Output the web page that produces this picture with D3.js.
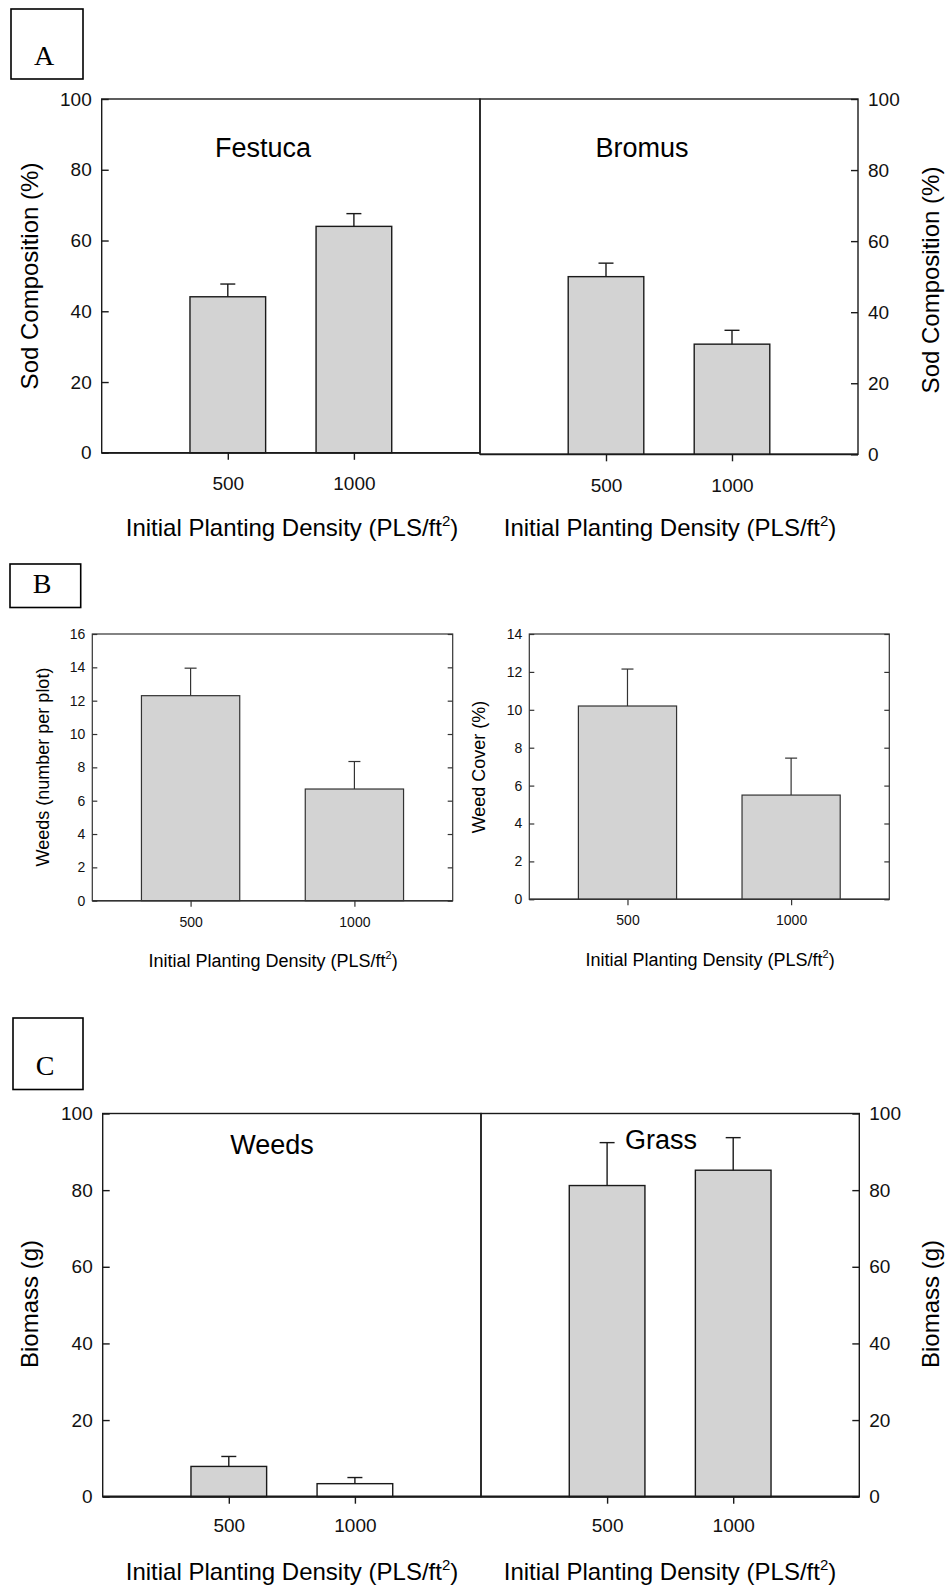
<!DOCTYPE html>
<html>
<head>
<meta charset="utf-8">
<script src="https://cdnjs.cloudflare.com/ajax/libs/d3/7.8.5/d3.min.js"></script>
<style>
  body { margin: 0; background: #fff; }
  svg { display: block; font-family: "Liberation Sans", Arial, sans-serif; }
</style>
</head>
<body>
<div id="d3"></div>
<script>
// values (mean and upper error)
var densities = ["500", "1000"];

var festuca = [44.1, 64.0], festucaErr = [3.6, 3.6];
var bromus = [50.0, 31.0], bromusErr = [3.8, 3.9];

var weedCount = [12.3, 6.7], weedCountErr = [1.65, 1.65];
var weedCover = [10.2, 5.5], weedCoverErr = [1.95, 1.95];

var weedMass = [7.9, 3.4], weedMassErr = [2.6, 1.6];
var grassMass = [81.2, 85.2], grassMassErr = [11.2, 8.5];

var pctTicks = [0, 20, 40, 60, 80, 100];
var countTicks = [0, 2, 4, 6, 8, 10, 12, 14, 16];
var coverTicks = [0, 2, 4, 6, 8, 10, 12, 14];
var massTicks = [0, 20, 40, 60, 80, 100];

var W = 947, H = 1585;
var GREY = "#d3d3d3";

var svg = d3.select("#d3")
  .append("svg")
  .attr("width", W)
  .attr("height", H);

// panel letter in a box
function letterBox(txt, x0, y0, x1, y1, cx, by, size) {
  svg.append("rect")
    .attr("x", x0).attr("y", y0)
    .attr("width", x1 - x0).attr("height", y1 - y0)
    .attr("fill", "none")
    .attr("stroke", "#000")
    .attr("stroke-width", 1.6);
  svg.append("text")
    .attr("x", cx).attr("y", by)
    .attr("text-anchor", "middle")
    .style("font-family", "'Liberation Serif', 'Times New Roman', serif")
    .style("font-size", size + "px")
    .text(txt);
}

function yTitle(txt, cx, cy, size) {
  svg.append("text")
    .attr("transform", "translate(" + cx + "," + cy + ") rotate(-90)")
    .attr("text-anchor", "middle")
    .attr("dy", "0.35em")
    .style("font-size", size + "px")
    .text(txt);
}

function xTitle(cx, by, size) {
  var t = svg.append("text")
    .attr("x", cx).attr("y", by)
    .attr("text-anchor", "middle")
    .style("font-size", size + "px");
  t.append("tspan").text("Initial Planting Density (PLS/ft");
  t.append("tspan")
    .style("font-size", Math.round(size * 0.62) + "px")
    .attr("dy", -size * 0.42)
    .text("2");
  t.append("tspan")
    .attr("dy", size * 0.42)
    .text(")");
}

function drawPanel(p) {
  var x = d3.scaleLinear().domain(p.xDomain).range([p.left, p.right]);
  var y = d3.scaleLinear().domain([0, d3.max(p.ticks)]).range([p.bottom, p.top]);
  var half = x(1.3) - x(1); // bars are 0.6 category units wide

  var g = svg.append("g");

  // frame
  g.append("rect")
    .attr("x", p.left).attr("y", p.top)
    .attr("width", p.right - p.left)
    .attr("height", p.bottom - p.top)
    .attr("fill", "none")
    .attr("stroke", p.stroke)
    .attr("stroke-width", p.frameW);

  // bars
  g.selectAll(".bar")
    .data(p.values)
    .enter().append("rect")
    .attr("class", "bar")
    .attr("x", (d, i) => x(i + 1) - half)
    .attr("width", 2 * half)
    .attr("y", d => y(d))
    .attr("height", d => y(0) - y(d))
    .attr("fill", (d, i) => p.fills[i])
    .attr("stroke", p.stroke)
    .attr("stroke-width", p.barW);

  // upper error bars
  g.selectAll(".stem")
    .data(p.values)
    .enter().append("line")
    .attr("x1", (d, i) => x(i + 1))
    .attr("x2", (d, i) => x(i + 1))
    .attr("y1", d => y(d))
    .attr("y2", (d, i) => y(d + p.errs[i]))
    .attr("stroke", p.stroke)
    .attr("stroke-width", p.barW);

  g.selectAll(".cap")
    .data(p.values)
    .enter().append("line")
    .attr("x1", (d, i) => x(i + 1) - p.cap / 2)
    .attr("x2", (d, i) => x(i + 1) + p.cap / 2)
    .attr("y1", (d, i) => y(d + p.errs[i]))
    .attr("y2", (d, i) => y(d + p.errs[i]))
    .attr("stroke", p.stroke)
    .attr("stroke-width", p.barW);

  // bottom line a bit heavier
  g.append("line")
    .attr("x1", p.left).attr("x2", p.right)
    .attr("y1", p.bottom).attr("y2", p.bottom)
    .attr("stroke", p.stroke)
    .attr("stroke-width", p.baseW);

  // x axis
  var xa = g.append("g")
    .attr("transform", "translate(0," + p.bottom + ")")
    .call(d3.axisBottom(x)
      .tickValues([1, 2])
      .tickFormat((d, i) => densities[i])
      .tickSizeInner(p.xTick)
      .tickSizeOuter(0)
      .tickPadding(p.xPad));
  xa.select(".domain").remove();

  // y axis, ticks pointing inward
  var sides = p.ySide == "both" ? ["left", "right"] : [p.ySide];
  sides.forEach(function (s, k) {
    var ax = s == "left" ? d3.axisLeft(y) : d3.axisRight(y);
    ax.tickValues(p.ticks)
      .tickSizeInner(-p.yTick)
      .tickSizeOuter(0)
      .tickPadding(p.yPad);
    if (k > 0) ax.tickFormat("");
    var ya = g.append("g")
      .attr("transform", "translate(" + (s == "left" ? p.left : p.right) + ",0)")
      .call(ax);
    ya.select(".domain").remove();
  });

  g.selectAll(".tick line")
    .attr("stroke", p.stroke)
    .attr("stroke-width", p.frameW);
  g.selectAll(".tick text")
    .attr("fill", "#111")
    .style("font-family", "'Liberation Sans', Arial, sans-serif")
    .style("font-size", p.tickFont + "px");

  if (p.name) {
    g.append("text")
      .attr("x", p.nameX).attr("y", p.nameY)
      .attr("text-anchor", "middle")
      .attr("dy", "0.35em")
      .style("font-size", "27px")
      .text(p.name);
  }
}

// ---------- A ----------
letterBox("A", 11, 9, 83, 79, 44, 65, 28);

var bigA = {
  xDomain: [0, 3], ticks: pctTicks,
  top: 99, stroke: "#1a1a1a", frameW: 1.4, barW: 1.4, baseW: 1.8,
  cap: 15, xTick: 7, xPad: 17, yTick: 7, yPad: 10, tickFont: 19,
  fills: [GREY, GREY]
};

drawPanel(Object.assign({}, bigA, {
  left: 101.7, right: 480, bottom: 452.8, ySide: "left",
  values: festuca, errs: festucaErr,
  name: "Festuca", nameX: 263, nameY: 148
}));
drawPanel(Object.assign({}, bigA, {
  left: 480, right: 858, bottom: 454.3, ySide: "right",
  values: bromus, errs: bromusErr,
  name: "Bromus", nameX: 642, nameY: 148
}));

yTitle("Sod Composition (%)", 30, 276, 24);
yTitle("Sod Composition (%)", 931, 280, 24);
xTitle(292, 536, 24);
xTitle(670, 536, 24);

// ---------- B ----------
letterBox("B", 10, 564, 80.7, 607.5, 42, 593, 28);

var smallB = {
  xDomain: [0.4, 2.6], top: 634, stroke: "#333", frameW: 1.2, barW: 1.2, baseW: 1.4,
  cap: 12, xTick: 6, xPad: 10, yTick: 5, yPad: 7, tickFont: 14,
  ySide: "both", fills: [GREY, GREY]
};

drawPanel(Object.assign({}, smallB, {
  left: 92.3, right: 452.7, bottom: 900.7, ticks: countTicks,
  values: weedCount, errs: weedCountErr
}));
drawPanel(Object.assign({}, smallB, {
  left: 529.3, right: 889.3, bottom: 899.3, ticks: coverTicks,
  values: weedCover, errs: weedCoverErr
}));

yTitle("Weeds (number per plot)", 43, 767, 18);
yTitle("Weed Cover (%)", 479, 767, 18);
xTitle(273, 967, 18);
xTitle(710, 966, 18);

// ---------- C ----------
letterBox("C", 13, 1018, 83, 1089.5, 45, 1075, 28);

var bigC = Object.assign({}, bigA, { ticks: massTicks, top: 1113.5, bottom: 1496.7, baseW: 2.2, xPad: 15 });

drawPanel(Object.assign({}, bigC, {
  left: 102.7, right: 481, ySide: "left",
  values: weedMass, errs: weedMassErr, fills: [GREY, "#ffffff"],
  name: "Weeds", nameX: 272, nameY: 1145
}));
drawPanel(Object.assign({}, bigC, {
  left: 481, right: 859.3, ySide: "right",
  values: grassMass, errs: grassMassErr,
  name: "Grass", nameX: 661, nameY: 1140
}));

yTitle("Biomass (g)", 30, 1304, 24);
yTitle("Biomass (g)", 931, 1304, 24);
xTitle(292, 1580, 24);
xTitle(670, 1580, 24);
</script>
</body>
</html>
